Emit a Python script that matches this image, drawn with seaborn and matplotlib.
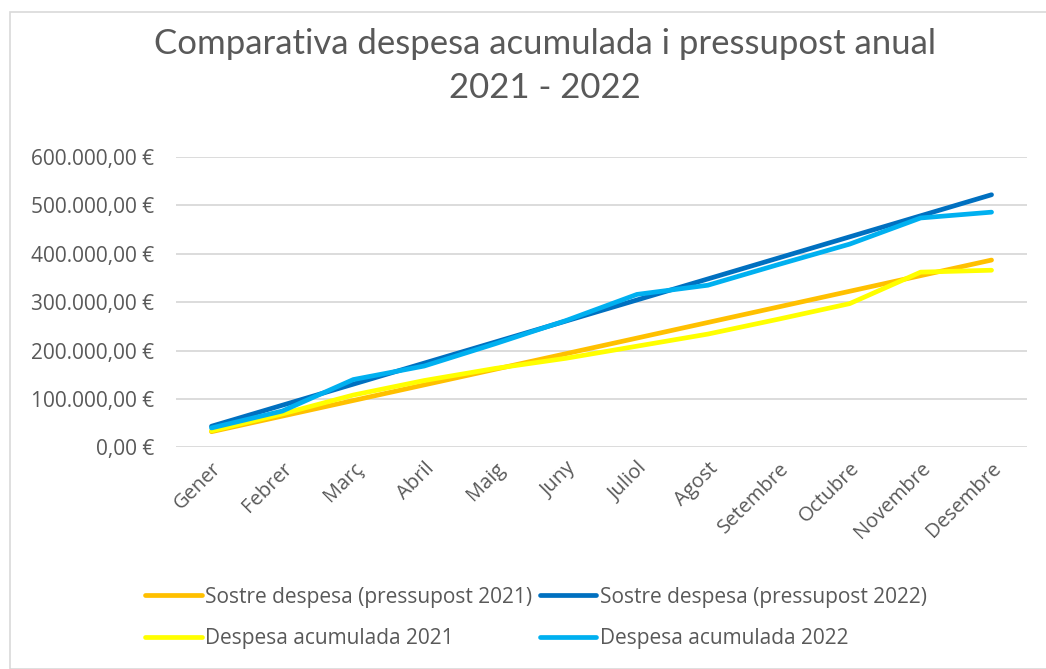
import matplotlib
matplotlib.use("Agg")
import matplotlib.pyplot as plt
import seaborn as sns
import pandas as pd
from matplotlib.ticker import FuncFormatter
from matplotlib.patches import Rectangle

months = ["Gener", "Febrer", "Març", "Abril", "Maig", "Juny", "Juliol",
          "Agost", "Setembre", "Octubre", "Novembre", "Desembre"]

sostre_2021 = [32250, 64500, 96750, 129000, 161250, 193500, 225750,
               258000, 290250, 322500, 354750, 387000]
sostre_2022 = [43500, 87000, 130500, 174000, 217500, 261000, 304500,
               348000, 391500, 435000, 478500, 522000]
despesa_2021 = [34000, 69000, 108000, 138000, 163000, 184000, 209000,
                234000, 265000, 297000, 362000, 366000]
despesa_2022 = [40000, 75000, 140000, 168000, 214000, 262000, 316000,
                335000, 378000, 420000, 474000, 486000]

series_names = ["Sostre despesa (pressupost 2021)", "Sostre despesa (pressupost 2022)",
                "Despesa acumulada 2021", "Despesa acumulada 2022"]
series_values = [sostre_2021, sostre_2022, despesa_2021, despesa_2022]
colors = ["#FFC000", "#0070C0", "#FFFF00", "#00B0F0"]

title_text = "Comparativa despesa acumulada i pressupost anual\n2021 - 2022"

rows = []
for name, vals in zip(series_names, series_values):
    for i, (m, v) in enumerate(zip(months, vals)):
        rows.append({"idx": i, "Mes": m, "Serie": name, "Valor": v})
df = pd.DataFrame(rows)

sns.set_theme(style="white")
plt.rcParams["font.family"] = ["Open Sans", "DejaVu Sans"]
txt_color = "#595959"

fig = plt.figure(figsize=(10.46, 6.69), dpi=100)
W, H = 1046, 669
ax = fig.add_axes([176 / W, 1 - 447.3 / H, (1027 - 176) / W, (447.3 - 157) / H])

sns.lineplot(data=df, x="idx", y="Valor", hue="Serie", hue_order=series_names,
             palette=colors, linewidth=3.4, ax=ax, legend=False,
             solid_capstyle="round", sort=False)

ax.set_xlim(-0.5, len(months) - 0.5)
ax.set_ylim(0, 600000)
ax.set_yticks(range(0, 600001, 100000))
ax.yaxis.set_major_formatter(FuncFormatter(
    lambda v, p: f"{int(v):,}".replace(",", ".") + ",00 €"))
ax.set_xticks(range(len(months)))
ax.set_xticklabels(months, rotation=45, ha="right", rotation_mode="anchor")
ax.set_xlabel("")
ax.set_ylabel("")
for s in ax.spines.values():
    s.set_visible(False)
ax.grid(axis="y", color="#D9D9D9", linewidth=1.3)
ax.grid(axis="x", visible=False)
ax.set_axisbelow(True)
ax.tick_params(axis="y", length=0, pad=16, labelsize=15, labelcolor=txt_color)
ax.tick_params(axis="x", length=0, pad=8, labelsize=14.5, labelcolor=txt_color)

fig.text(545 / W, 1 - 66 / H, title_text, ha="center", va="center",
         fontsize=25, color=txt_color, family=["Lato", "DejaVu Sans"],
         linespacing=1.5)

handles = [plt.Line2D([], [], color=c, linewidth=3.4, solid_capstyle="round") for c in colors]
order = [0, 2, 1, 3]
fig.legend([handles[i] for i in order], [series_names[i] for i in order],
           ncol=2, loc="center", bbox_to_anchor=(536 / W, 1 - 618 / H),
           frameon=False, fontsize=15, handlelength=2.7, handletextpad=0.15,
           columnspacing=0.4, labelspacing=1.0, labelcolor=txt_color)

fig.patches.append(Rectangle((10 / W, 0), 1.2, 1 - 12 / H, transform=fig.transFigure,
                             fill=False, edgecolor="#D9D9D9", linewidth=1.2))

fig.savefig("out.png", dpi=100, facecolor="white")
